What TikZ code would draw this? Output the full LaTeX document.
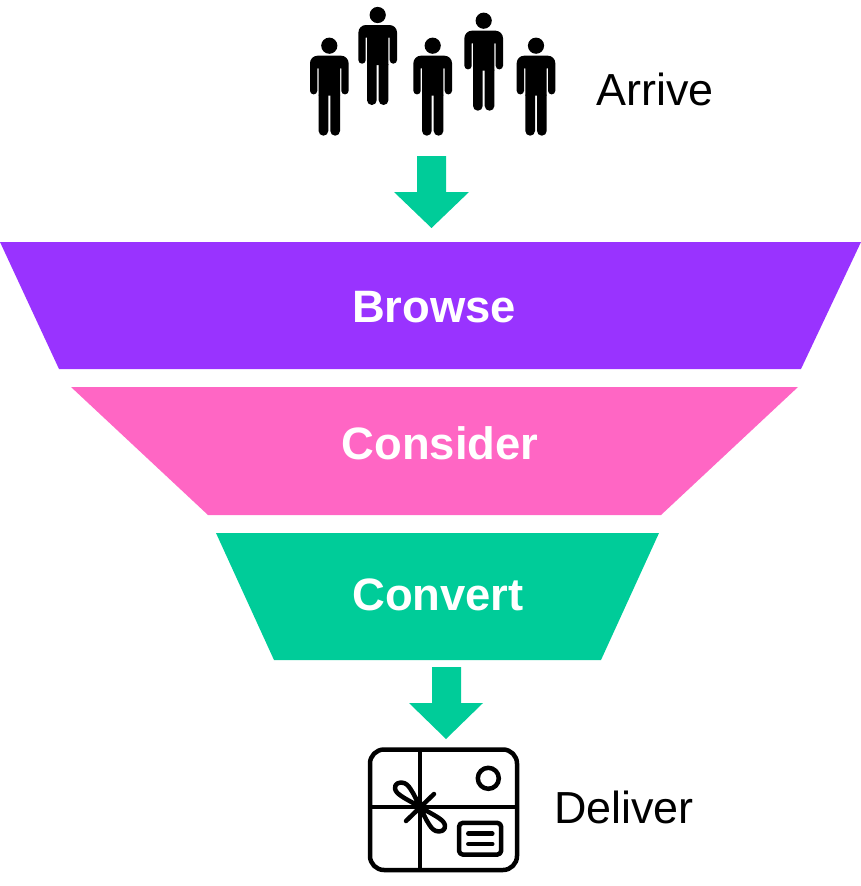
\documentclass[tikz,border=0pt]{standalone}
\usepackage{fontspec}
\setmainfont{Liberation Sans}
\definecolor{funnelpurple}{HTML}{9933FF}
\definecolor{funnelpink}{HTML}{FF66C4}
\definecolor{funnelgreen}{HTML}{00CC99}
\tikzset{
  stagelabel/.style={text=white,font=\fontsize{45.4}{50}\selectfont\bfseries,inner sep=0pt},
  sidelabel/.style={text=black,font=\fontsize{44.9}{50}\selectfont,inner sep=0pt,anchor=base west},
  iconline/.style={draw=black,line width=4.5pt,line cap=round,line join=round},
  % standing figure, origin at the centre of the head
  person/.pic={
    \fill[black] (0,0) circle (8.1);
    % torso and arms
    \fill[black] (0,10) [rounded corners=7.5pt] -- (19.3,10) [rounded corners=3.6pt] -- (19.3,48.7) -- (12,48.7)
      [sharp corners] -- (12,22.7) -- (10.7,22.7) -- (10.7,50) -- (-10.7,50) -- (-10.7,22.7) -- (-12,22.7)
      [rounded corners=3.6pt] -- (-12,48.7) -- (-19.3,48.7) [rounded corners=7.5pt] -- (-19.3,10) [sharp corners] -- cycle;
    % legs
    \fill[black] (-10.7,49) [rounded corners=4.8pt] -- (-10.7,90) -- (-1,90) [sharp corners] -- (-1,49) -- cycle;
    \fill[black] (1,49) [rounded corners=4.8pt] -- (1,90) -- (10.7,90) [sharp corners] -- (10.7,49) -- cycle;
  }
}
\begin{document}
\begin{tikzpicture}[x=1pt,y=-1pt]
\useasboundingbox (0,0) rectangle (861,886);

% arriving people
\foreach \px/\py in {329.3/45.7,377.7/15,432.7/45.7,483.7/20.7,536/45.7}
  \pic at (\px,\py) {person};
\node[sidelabel] (arrive) at (596,105) {Arrive};

% entry arrow
\fill[funnelgreen] (417,156) -- (446,156) -- (446,192) -- (469,192) -- (431.5,228) -- (394,192) -- (417,192) -- cycle;

% funnel stages
\fill[funnelpurple] (0,242) -- (861,242) -- (801,369) -- (59,369) -- cycle;
\fill[funnelpink] (71,387) -- (798,387) -- (661,515) -- (208,515) -- cycle;
\fill[funnelgreen] (216,533) -- (659,533) -- (601,660) -- (274,660) -- cycle;
\node[stagelabel] (browse) at (434,307) {Browse};
\node[stagelabel] (consider) at (440,443) {Consider};
\node[stagelabel] (convert) at (438,595) {Convert};

% exit arrow
\fill[funnelgreen] (432,667) -- (461,667) -- (461,703) -- (483,703) -- (446,739) -- (409,703) -- (432,703) -- cycle;

% parcel icon
\draw[iconline,rounded corners=14pt] (400,749.5) -- (517,749.5) -- (517,870) -- (370,870) -- (370,749.5) -- cycle;
\draw[iconline,line cap=butt] (420,749.5) -- (420,870);
\draw[iconline,line cap=butt] (370,807) -- (517,807);
\draw[iconline] (488.3,778.3) circle (10.5);
\draw[iconline,rounded corners=4pt] (459,822.8) rectangle (501.2,854.6);
\draw[iconline] (468.3,833.7) -- (492.3,833.7);
\draw[iconline] (468.3,844) -- (492.3,844);
% ribbon bow
\draw[iconline] (420,807) .. controls (412,802) and (401,797) .. (397,792.5)
  .. controls (392.5,787) and (396,782.5) .. (401,782.5)
  .. controls (406,782.5) and (408.5,786) .. (410.5,789)
  .. controls (414,794) and (417,801) .. (420,807)
  .. controls (428,812) and (439,817) .. (443,821.5)
  .. controls (447.5,827) and (444,831.5) .. (439,831.5)
  .. controls (434,831.5) and (431.5,828) .. (429.5,825)
  .. controls (426,820) and (423,813) .. (420,807);
\draw[iconline] (406,821) -- (434,794);
\node[sidelabel] (deliver) at (554,823) {Deliver};
\end{tikzpicture}
\end{document}
